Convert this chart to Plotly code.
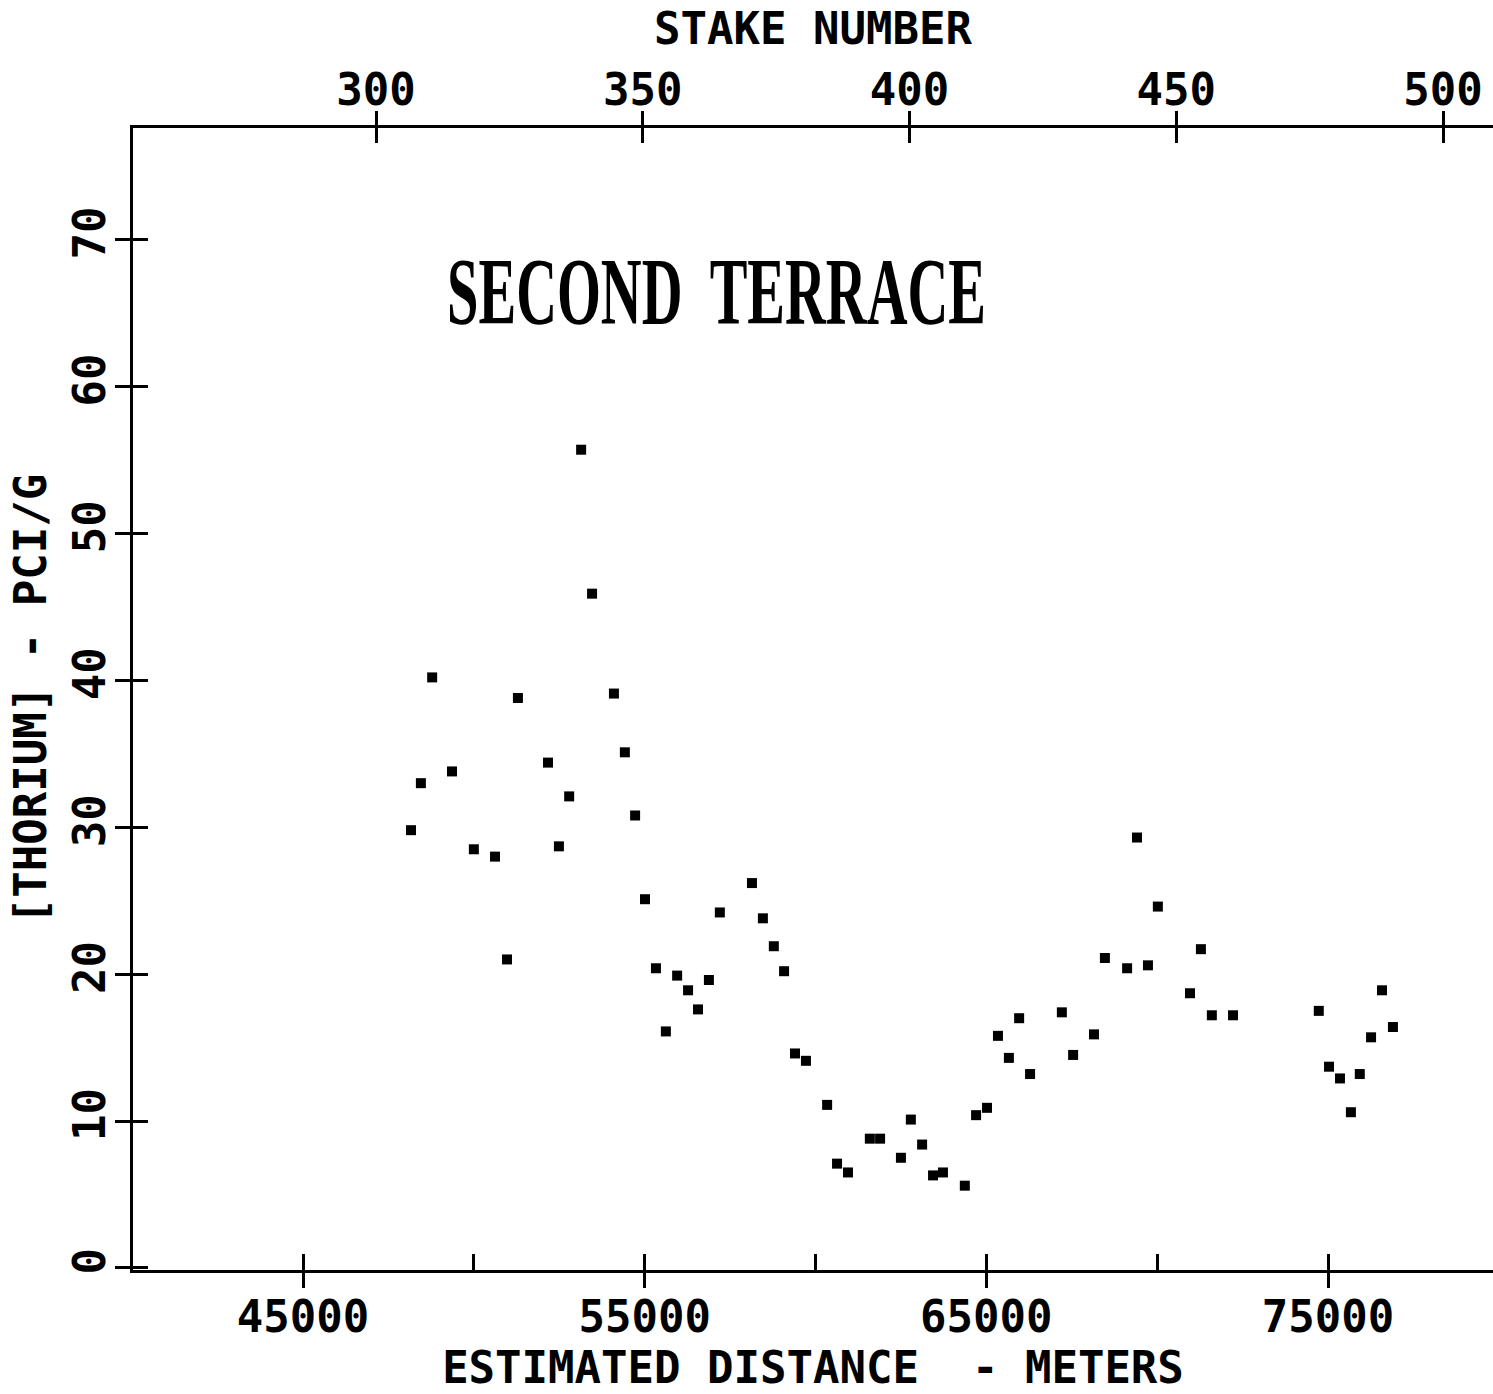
import plotly.graph_objects as go

# ---- data ----
distance_m = [48160, 48450, 48780, 49360, 50000, 50620, 50970, 51290, 52170, 52490,
              52790, 53140, 53460, 54100, 54420, 54720, 55010, 55330, 55620, 55950,
              56270, 56560, 56880, 57200, 58140, 58460, 58780, 59080, 59400, 59720,
              60340, 60630, 60950, 61590, 61890, 62500, 62790, 63120, 63440, 63730,
              64370, 64700, 65020, 65340, 65660, 65960, 66280, 67210, 67540, 68150,
              68470, 69120, 69410, 69730, 70020, 70960, 71280, 71600, 72220, 74730,
              75030, 75350, 75670, 75930, 76260, 76580, 76900]
thorium_pci_g = [29.8, 33.0, 40.2, 33.8, 28.5, 28.0, 21.0, 38.8, 34.4, 28.7,
                 32.1, 55.7, 45.9, 39.1, 35.1, 30.8, 25.1, 20.4, 16.1, 19.9,
                 18.9, 17.6, 19.6, 24.2, 26.2, 23.8, 21.9, 20.2, 14.6, 14.1,
                 11.1, 7.1, 6.5, 8.8, 8.8, 7.5, 10.1, 8.4, 6.3, 6.5,
                 5.6, 10.4, 10.9, 15.8, 14.3, 17.0, 13.2, 17.4, 14.5, 15.9,
                 21.1, 20.4, 29.3, 20.6, 24.6, 18.7, 21.7, 17.2, 17.2, 17.5,
                 13.7, 12.9, 10.6, 13.2, 15.7, 18.9, 16.4]

distance_ticks = [45000, 55000, 65000, 75000]
distance_minor = [45000, 50000, 55000, 60000, 65000, 70000, 75000]
distance_labels = ["45000", "55000", "65000", "75000"]
stake_ticks = [300, 350, 400, 450, 500]
stake_labels = ["300", "350", "400", "450", "500"]
thorium_ticks = [0, 10, 20, 30, 40, 50, 60, 70]
thorium_labels = ["0", "10", "20", "30", "40", "50", "60", "70"]

x_range = [40024, 79829]
stake_range = [254.45, 509.37]
y_range = [-0.14, 77.6]

MONO = "DejaVu Sans Mono"
FS = 44
TXT = dict(family=MONO, size=FS, color="black", weight="bold")

fig = go.Figure()
fig.add_trace(go.Scatter(x=distance_m, y=thorium_pci_g, mode="markers",
                         marker=dict(symbol="square", size=10, color="black"),
                         showlegend=False, hoverinfo="x+y"))
# empty traces so the auxiliary axes are instantiated
for xa in ["x2", "x3", "x4"]:
    fig.add_trace(go.Scatter(x=[], y=[], xaxis=xa, yaxis="y", showlegend=False))
fig.add_trace(go.Scatter(x=[], y=[], xaxis="x", yaxis="y2", showlegend=False))

common = dict(showgrid=False, zeroline=False, tickcolor="black", tickwidth=3,
              tickfont=TXT, automargin=False)

fig.update_layout(
    width=1493, height=1394,
    margin=dict(l=133, r=0, t=128, b=124),
    paper_bgcolor="white", plot_bgcolor="white",
    xaxis=dict(range=x_range, tickmode="array", tickvals=distance_ticks,
               ticktext=distance_labels, ticks="outside", ticklen=15,
               ticklabelstandoff=-9,
               showline=True, linecolor="black", linewidth=3,
               title=dict(text="ESTIMATED DISTANCE  - METERS", font=TXT, standoff=12),
               **common),
    xaxis3=dict(range=x_range, overlaying="x", anchor="y", side="bottom",
                tickmode="array", tickvals=distance_minor, ticks="inside", ticklen=16,
                showticklabels=False, showline=False, **common),
    xaxis2=dict(range=stake_range, overlaying="x", anchor="y", side="top",
                tickmode="array", tickvals=stake_ticks, ticktext=stake_labels,
                ticks="outside", ticklen=14, ticklabelstandoff=-12,
                showline=True, linecolor="black", linewidth=3,
                title=dict(text="STAKE NUMBER", font=TXT, standoff=7),
                **common),
    xaxis4=dict(range=stake_range, overlaying="x", anchor="y", side="top",
                tickmode="array", tickvals=stake_ticks, ticks="inside", ticklen=15,
                showticklabels=False, showline=False, **common),
    yaxis=dict(range=y_range, tickmode="array", tickvals=thorium_ticks,
               ticktext=thorium_labels, ticks="outside", ticklen=15, tickangle=-90,
               ticklabelstandoff=-8,
               showline=True, linecolor="black", linewidth=3,
               title=dict(text="[THORIUM] - PCI/G", font=TXT, standoff=5),
               **common),
    yaxis2=dict(range=y_range, overlaying="y", anchor="x", side="left",
                tickmode="array", tickvals=thorium_ticks, ticks="inside", ticklen=15,
                showticklabels=False, showline=False, **common),
    annotations=[dict(text="SECOND  TERRACE", xref="paper", yref="paper",
                      x=0.4294, y=0.8564, xanchor="center", yanchor="middle",
                      showarrow=False,
                      font=dict(family="Liberation Serif", size=56.5, color="black",
                                weight="bold"))],
)

page_js = """
document.documentElement.style.margin = '0';
document.documentElement.style.overflow = 'hidden';
document.body.style.margin = '0';
document.body.style.padding = '0';
document.body.style.overflow = 'hidden';
var gd = document.querySelector('.plotly-graph-div');
function stretchTitle(){
  gd.querySelectorAll('.annotation-text').forEach(function(t){
    t.style.transformBox = 'fill-box';
    t.style.transformOrigin = 'center';
    t.style.transform = 'scaleY(1.68)';
  });
}
stretchTitle();
if (gd.on) { gd.on('plotly_afterplot', stretchTitle); }
"""

fig.write_html("out.html", post_script=page_js, config={"displayModeBar": False})
